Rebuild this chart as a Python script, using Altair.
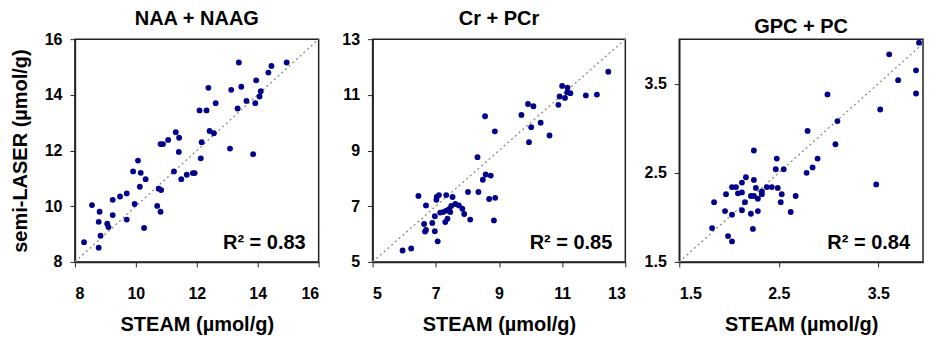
import altair as alt
import pandas as pd

F = "Liberation Sans"

# ---------------- data ----------------
naa_steam = [8.30, 8.78, 8.84, 8.56, 8.81, 8.78, 9.06, 9.10, 9.24, 9.24, 9.48, 9.70, 9.70,
             9.91, 10.07, 10.16, 9.96, 10.13, 10.32, 10.27, 10.70, 10.81, 10.75, 10.83,
             10.81, 10.89, 11.06, 11.25, 11.31, 11.42, 11.41, 11.49, 11.67, 11.87, 11.93,
             12.09, 12.32, 12.38, 12.13, 12.16, 12.42, 12.56, 12.62, 13.09, 13.13, 13.38,
             13.46, 13.34, 13.63, 13.85, 13.95, 13.92, 14.06, 14.10, 14.35, 14.45, 14.95]
naa_slaser = [8.71, 8.51, 8.94, 10.04, 9.80, 9.44, 9.37, 9.25, 10.23, 9.68, 10.35, 10.46, 9.52,
              11.25, 11.64, 11.20, 10.08, 10.70, 10.97, 9.22, 10.01, 9.80, 10.63, 10.58,
              12.23, 12.23, 12.38, 11.25, 12.66, 12.46, 11.95, 10.97, 11.13, 11.19, 11.19,
              13.44, 13.44, 14.25, 11.72, 12.30, 12.70, 12.62, 13.70, 12.07, 14.18, 15.16,
              14.29, 13.51, 13.78, 11.87, 14.52, 13.70, 13.94, 14.13, 14.80, 15.04, 15.16]

cr_steam = [5.95, 6.22, 6.45, 6.63, 6.66, 6.69, 6.69, 6.89, 6.97, 6.97, 7.06, 7.02, 7.03, 7.10,
            7.14, 7.23, 7.30, 7.33, 7.33, 7.37, 7.42, 7.46, 7.49, 7.53, 7.62, 7.73, 7.84, 7.90,
            8.02, 8.09, 8.32, 8.35, 8.49, 8.58, 8.74, 8.56, 8.87, 8.69, 8.88, 8.84, 9.71, 9.92,
            10.09, 10.02, 9.95, 10.32, 10.60, 10.88, 10.92, 11.00, 11.09, 11.17, 11.16, 11.26,
            11.75, 12.10, 12.46]
cr_slaser = [5.41, 5.48, 7.37, 6.36, 6.09, 6.15, 7.03, 6.40, 6.64, 6.10, 5.74, 7.23, 7.33, 7.40,
             6.77, 6.79, 6.43, 6.84, 7.40, 6.55, 6.89, 6.79, 7.01, 7.33, 7.08, 7.03, 6.91, 6.72,
             7.51, 6.52, 8.76, 7.51, 7.95, 8.14, 8.10, 10.23, 9.69, 7.26, 7.30, 6.49, 10.28, 10.67,
             10.59, 9.84, 9.30, 10.00, 9.54, 10.64, 10.94, 11.32, 10.89, 11.26, 11.09, 11.06,
             10.98, 11.01, 11.83]

gpc_steam = [3.91, 3.61, 3.88, 3.70, 3.88, 3.52, 3.48, 2.99, 3.09, 3.07, 2.79, 2.89, 2.84, 2.78,
             2.48, 2.47, 2.55, 2.25, 2.17, 2.25, 2.13, 2.03, 2.07, 1.97, 2.09, 2.13, 1.85, 2.16,
             2.22, 2.25, 2.27, 2.29, 2.33, 2.33, 2.38, 2.43, 2.49, 2.53, 2.52, 2.67, 2.62, 1.96,
             2.03, 2.13, 2.22, 2.29, 1.83, 1.99, 2.03, 2.24]
gpc_slaser = [3.96, 3.83, 3.65, 3.54, 3.39, 3.21, 2.37, 3.38, 3.08, 2.82, 2.97, 2.66, 2.56, 2.50,
              2.66, 2.54, 2.54, 2.75, 2.45, 2.42, 2.39, 2.34, 2.34, 2.26, 2.27, 2.28, 2.17, 2.17,
              2.24, 2.24, 2.33, 2.21, 2.29, 2.26, 2.34, 2.34, 2.33, 2.26, 2.17, 2.24, 2.06, 2.07,
              2.03, 2.08, 2.04, 2.07, 1.88, 1.79, 1.73, 1.87]

titles = ["NAA + NAAG", "Cr + PCr", "GPC + PC"]
r2_labels = ["R² = 0.83", "R² = 0.85", "R² = 0.84"]
ticks1 = [8, 10, 12, 14, 16]
ticks2 = [5, 7, 9, 11, 13]
ticks3 = [1.5, 2.5, 3.5]

X_TITLE = "STEAM (µmol/g)"
Y_TITLE = "semi-LASER (µmol/g)"

H = 223


def panel(xs, ys, xdom, ydom, ticks, fmt, title, r2, w, ytitle):
    df = pd.DataFrame({"x": xs, "y": ys})
    lo = max(xdom[0], ydom[0])
    hi = min(xdom[1], ydom[1])
    diag = pd.DataFrame({"x": [lo, hi], "y": [lo, hi]})
    xax = alt.Axis(values=ticks, format=fmt, title=X_TITLE)
    if ytitle:
        yax = alt.Axis(values=ticks, format=fmt, title=ytitle)
    else:
        yax = alt.Axis(values=ticks, format=fmt, title=None)
    line = alt.Chart(diag).mark_line(color="#8a8a8a", strokeDash=[2, 3], strokeWidth=1.3).encode(
        x=alt.X("x:Q", scale=alt.Scale(domain=xdom, nice=False, zero=False), axis=xax),
        y=alt.Y("y:Q", scale=alt.Scale(domain=ydom, nice=False, zero=False), axis=yax),
    )
    pts = alt.Chart(df).mark_circle(size=34, color="#00008b", opacity=1).encode(
        x="x:Q", y="y:Q"
    )
    txt = alt.Chart(pd.DataFrame({"t": [r2]})).mark_text(
        align="right", baseline="alphabetic", fontSize=20, fontWeight="bold", font=F, color="black"
    ).encode(x=alt.value(w - 13), y=alt.value(H - 13), text="t:N")
    return alt.layer(line, pts, txt).properties(
        width=w, height=H,
        title=alt.Title(title, fontSize=20, fontWeight="bold", font=F, color="black", offset=2),
    )


p1 = panel(naa_steam, naa_slaser, [8, 16], [8, 16], ticks1, "d", titles[0], r2_labels[0], 244, Y_TITLE)
p2 = panel(cr_steam, cr_slaser, [5, 13], [5, 13], ticks2, "d", titles[1], r2_labels[1], 253, None)
p3 = panel(gpc_steam, gpc_slaser, [1.5, 3.95], [1.5, 4.0], ticks3, ".1f", titles[2], r2_labels[2], 244, None)

chart = alt.hconcat(p1, p2, p3, spacing=54, bounds="flush").properties(
    padding={"left": 1, "top": 0, "right": 0, "bottom": 0}
).configure_view(
    stroke="#222222", strokeWidth=1.5
).configure_axis(
    grid=False,
    domainColor="#222222",
    domainWidth=1.5,
    tickColor="#222222",
    tickSize=5,
    labelFont=F,
    labelFontSize=16,
    labelFontWeight="bold",
    labelColor="black",
    titleFont=F,
    titleFontSize=20,
    titleFontWeight="bold",
    titleColor="black",
).configure_axisX(
    labelPadding=19, titlePadding=13
).configure_axisY(
    labelPadding=8, titlePadding=14
)

chart.save("out.html", embed_options={"renderer": "svg", "actions": False})
